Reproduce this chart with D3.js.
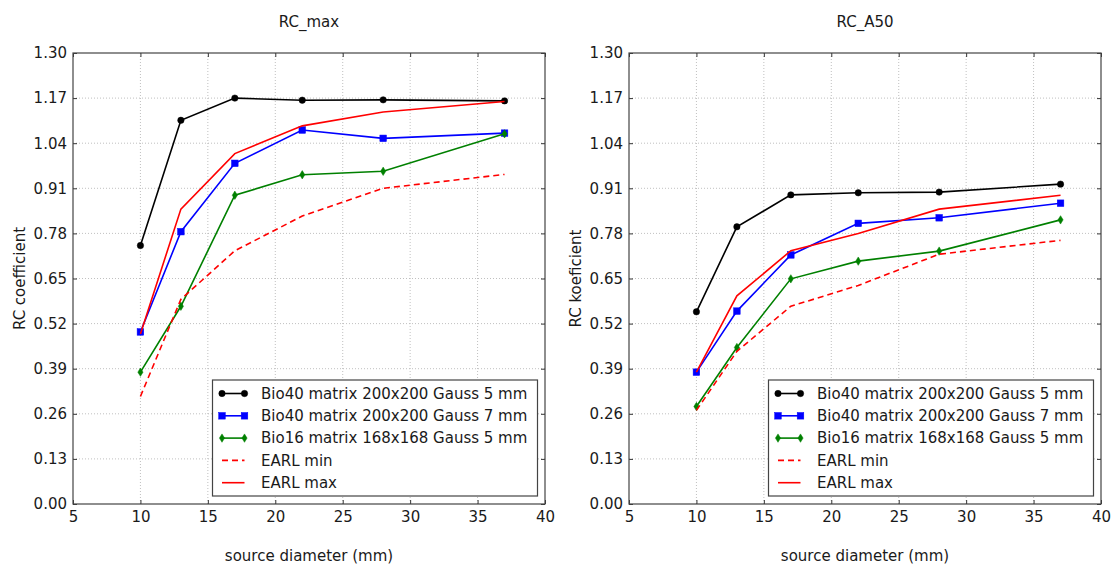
<!DOCTYPE html>
<html>
<head>
<meta charset="utf-8">
<script src="https://cdn.jsdelivr.net/npm/d3@7"></script>
<style>
  html, body { margin: 0; padding: 0; background: #fff; }
  svg { display: block; }
  text { font-family: "DejaVu Sans", sans-serif; fill: #1a1a1a; }
</style>
</head>
<body>
<svg id="chart" width="1113" height="566"></svg>
<script>
// Source sphere diameters (mm)
const diameters = [10, 13, 17, 22, 28, 37];

// Recovery coefficients based on maximum voxel value
const rcMaxBio40g5 = [0.745, 1.106, 1.170, 1.164, 1.165, 1.162];
const rcMaxBio40g7 = [0.496, 0.785, 0.982, 1.078, 1.054, 1.069];
const rcMaxBio16g5 = [0.380, 0.570, 0.890, 0.949, 0.959, 1.067];
const rcMaxEarlMin = [0.31, 0.59, 0.73, 0.83, 0.91, 0.95];
const rcMaxEarlMax = [0.49, 0.85, 1.01, 1.09, 1.13, 1.16];

// Recovery coefficients based on the 50% isocontour mean
const rcA50Bio40g5 = [0.554, 0.799, 0.891, 0.897, 0.899, 0.922];
const rcA50Bio40g7 = [0.380, 0.556, 0.718, 0.809, 0.825, 0.867];
const rcA50Bio16g5 = [0.281, 0.451, 0.649, 0.700, 0.729, 0.819];
const rcA50EarlMin = [0.27, 0.44, 0.57, 0.63, 0.72, 0.76];
const rcA50EarlMax = [0.38, 0.60, 0.73, 0.78, 0.85, 0.89];

// Axis ticks
const xTicks = [5, 10, 15, 20, 25, 30, 35, 40];
const yTicks = [0.00, 0.13, 0.26, 0.39, 0.52, 0.65, 0.78, 0.91, 1.04, 1.17, 1.30];

// Series labels
const seriesNames = [
  "Bio40 matrix 200x200 Gauss 5 mm",
  "Bio40 matrix 200x200 Gauss 7 mm",
  "Bio16 matrix 168x168 Gauss 5 mm",
  "EARL min",
  "EARL max"
];

const styles = [
  { color: "#000000", marker: "circle", dash: null },
  { color: "#0000ff", marker: "square", dash: null },
  { color: "#008000", marker: "thin_diamond", dash: null },
  { color: "#ff0000", marker: null, dash: "6,4" },
  { color: "#ff0000", marker: null, dash: null }
];

const svg = d3.select("#chart");

function drawMarker(g, type, x, y, color) {
  if (type === "circle") {
    g.append("circle").attr("cx", x).attr("cy", y).attr("r", 3.2)
      .attr("fill", color).attr("stroke", color).attr("stroke-width", 0.5);
  } else if (type === "square") {
    g.append("rect").attr("x", x - 3.3).attr("y", y - 3.3)
      .attr("width", 6.6).attr("height", 6.6)
      .attr("fill", color).attr("stroke", color).attr("stroke-width", 0.5);
  } else if (type === "thin_diamond") {
    g.append("path")
      .attr("d", `M${x},${y - 4.2}L${x + 2.6},${y}L${x},${y + 4.2}L${x - 2.6},${y}Z`)
      .attr("fill", color).attr("stroke", color).attr("stroke-width", 0.5);
  }
}

function panel(opts) {
  const { left, right, top, bottom, title, yLabel, series } = opts;
  const g = svg.append("g");

  const x = d3.scaleLinear().domain([5, 40]).range([left, right]);
  const y = d3.scaleLinear().domain([0, 1.3]).range([bottom, top]);

  // dotted grid
  const grid = g.append("g").attr("stroke", "#b0b0b0").attr("stroke-width", 0.8)
    .attr("stroke-dasharray", "1,2");
  xTicks.slice(1, -1).forEach(t => {
    grid.append("line").attr("x1", x(t)).attr("x2", x(t)).attr("y1", top).attr("y2", bottom);
  });
  yTicks.slice(1, -1).forEach(t => {
    grid.append("line").attr("x1", left).attr("x2", right).attr("y1", y(t)).attr("y2", y(t));
  });

  // axes (ticks pointing inward)
  const xAxis = d3.axisBottom(x).tickValues(xTicks).tickFormat(d3.format("d"))
    .tickSizeInner(-4).tickSizeOuter(0).tickPadding(7);
  const yAxis = d3.axisLeft(y).tickValues(yTicks).tickFormat(d3.format(".2f"))
    .tickSizeInner(-4).tickSizeOuter(0).tickPadding(6);

  const gx = g.append("g").attr("transform", `translate(0,${bottom})`).call(xAxis);
  const gy = g.append("g").attr("transform", `translate(${left},0)`).call(yAxis);
  [gx, gy].forEach(a => {
    a.select(".domain").remove();
    a.selectAll(".tick line").attr("stroke", "#333");
    a.selectAll(".tick text").attr("font-size", 15).attr("fill", "#1a1a1a")
      .attr("font-family", "DejaVu Sans, sans-serif");
  });
  // inward ticks on top and right edges
  g.append("g").attr("transform", `translate(0,${top})`)
    .call(d3.axisTop(x).tickValues(xTicks).tickFormat("").tickSizeInner(-4).tickSizeOuter(0))
    .call(a => { a.select(".domain").remove(); a.selectAll("line").attr("stroke", "#333"); });
  g.append("g").attr("transform", `translate(${right},0)`)
    .call(d3.axisRight(y).tickValues(yTicks).tickFormat("").tickSizeInner(-4).tickSizeOuter(0))
    .call(a => { a.select(".domain").remove(); a.selectAll("line").attr("stroke", "#333"); });

  // data lines
  const line = d3.line().x(d => x(d[0])).y(d => y(d[1]));
  series.forEach((vals, i) => {
    const st = styles[i];
    const pts = diameters.map((dm, k) => [dm, vals[k]]);
    g.append("path").datum(pts).attr("d", line)
      .attr("fill", "none").attr("stroke", st.color).attr("stroke-width", 1.6)
      .attr("stroke-dasharray", st.dash);
    if (st.marker) {
      const mg = g.append("g");
      pts.forEach(p => drawMarker(mg, st.marker, x(p[0]), y(p[1]), st.color));
    }
  });

  // frame
  g.append("rect").attr("x", left).attr("y", top)
    .attr("width", right - left).attr("height", bottom - top)
    .attr("fill", "none").attr("stroke", "#444").attr("stroke-width", 1.2);

  // legend
  const lgW = 325, lgH = 116;
  const lgX = right - 7.5 - lgW, lgY = bottom - 8 - lgH;
  const lg = g.append("g");
  lg.append("rect").attr("x", lgX).attr("y", lgY).attr("width", lgW).attr("height", lgH)
    .attr("fill", "#fff").attr("stroke", "#444").attr("stroke-width", 1.2);
  seriesNames.forEach((name, i) => {
    const st = styles[i];
    const cy = lgY + 13.5 + i * 22.3;
    const x1 = lgX + 9.5, x2 = lgX + 32;
    lg.append("line").attr("x1", x1).attr("x2", x2).attr("y1", cy).attr("y2", cy)
      .attr("stroke", st.color).attr("stroke-width", 1.6).attr("stroke-dasharray", st.dash);
    if (st.marker) {
      drawMarker(lg, st.marker, x1, cy, st.color);
      drawMarker(lg, st.marker, x2, cy, st.color);
    }
    lg.append("text").attr("x", lgX + 48.5).attr("y", cy).attr("dy", "0.35em")
      .attr("font-size", 15).text(name);
  });

  // title and axis labels
  g.append("text").attr("x", (left + right) / 2).attr("y", 22).attr("dy", "0.35em")
    .attr("text-anchor", "middle").attr("font-size", 15).text(title);
  g.append("text").attr("x", (left + right) / 2).attr("y", 556).attr("dy", "0.35em")
    .attr("text-anchor", "middle").attr("font-size", 15).text("source diameter (mm)");
  g.append("text")
    .attr("transform", `translate(${left - 53},${(top + bottom) / 2}) rotate(-90)`)
    .attr("dy", "0.35em").attr("text-anchor", "middle").attr("font-size", 15).text(yLabel);
}

panel({
  left: 73, right: 545, top: 53, bottom: 504,
  title: "RC_max", yLabel: "RC coefficient",
  series: [rcMaxBio40g5, rcMaxBio40g7, rcMaxBio16g5, rcMaxEarlMin, rcMaxEarlMax]
});

panel({
  left: 629, right: 1101, top: 53, bottom: 504,
  title: "RC_A50", yLabel: "RC koeficient",
  series: [rcA50Bio40g5, rcA50Bio40g7, rcA50Bio16g5, rcA50EarlMin, rcA50EarlMax]
});
</script>
</body>
</html>
